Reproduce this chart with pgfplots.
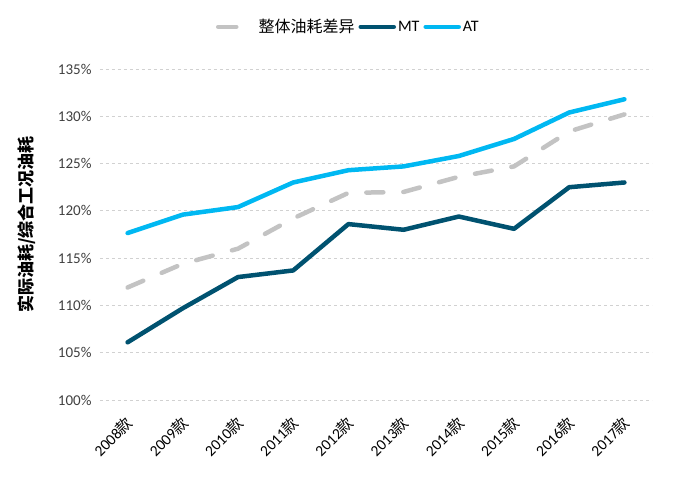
\documentclass[border=0pt]{standalone}
\usepackage{pgfplots}
\pgfplotsset{compat=1.18}
\usepackage{fontspec}
\setmainfont{Carlito}
\newfontfamily\cjk{Noto Sans CJK SC}
\definecolor{mtc}{HTML}{005270}
\definecolor{atc}{HTML}{00B8F2}
\definecolor{grayc}{HTML}{C3C3C3}
\definecolor{tickc}{HTML}{404040}
\pgfplotsset{
  shortleg/.style={legend image code/.code={\draw[##1,solid] (0pt,0pt) -- (18pt,0pt); \path (36pt,0pt);}},
  longleg/.style={legend image code/.code={\draw[##1] (0pt,0pt) -- (33pt,0pt);}},
}

\begin{document}
\begin{tikzpicture}
\begin{axis}[
  at={(0,0)}, anchor=south west,
  scale only axis, width=552pt, height=331pt,
  xmin=-0.5, xmax=9.5, ymin=100, ymax=135,
  axis line style={draw=none},
  tick style={draw=none},
  ytick={100,105,...,135},
  yticklabel={\pgfmathprintnumber[assume math mode=true]{\tick}\%},
  yticklabel style={font=\fontsize{15}{16}\selectfont, text=tickc, xshift=-5pt},
  ymajorgrids,
  grid style={dashed, line width=0.8pt, draw=black!18},
  xtick={0,...,9},
  xticklabels={2008{\cjk 款},2009{\cjk 款},2010{\cjk 款},2011{\cjk 款},2012{\cjk 款},2013{\cjk 款},2014{\cjk 款},2015{\cjk 款},2016{\cjk 款},2017{\cjk 款}},
  xticklabel style={font=\fontsize{15.5}{16}\selectfont, xshift=-3pt, yshift=-10pt, rotate=45, anchor=north east},
  ylabel={\cjk\bfseries 实际油耗/综合工况油耗},
  ylabel style={at={(axis description cs:-0.132,0.53)}, anchor=center, font=\fontsize{17}{18}\selectfont},
  legend style={at={(axis description cs:0.45,1.127)}, anchor=center, draw=none,
    font=\fontsize{16}{17}\selectfont, legend columns=3,
    /tikz/every even column/.append style={column sep=2pt}},
  legend cell align=left,
]
\addplot[grayc, line width=4.5pt, line cap=round, dash pattern=on 17pt off 20pt, shortleg]
  coordinates {(0,111.9) (1,114.4) (2,116.0) (3,119.2) (4,121.9) (5,122.0) (6,123.6) (7,124.7) (8,128.4) (9,130.2)};
\addlegendentry{\cjk 整体油耗差异}
\addplot[mtc, line width=4.5pt, line cap=round, line join=round, longleg]
  coordinates {(0,106.1) (1,109.7) (2,113.0) (3,113.7) (4,118.6) (5,118.0) (6,119.4) (7,118.1) (8,122.5) (9,123.0)};
\addlegendentry{MT}
\addplot[atc, line width=4.5pt, line cap=round, line join=round, longleg]
  coordinates {(0,117.65) (1,119.6) (2,120.4) (3,123.0) (4,124.3) (5,124.7) (6,125.8) (7,127.6) (8,130.4) (9,131.8)};
\addlegendentry{AT}
\end{axis}
\path (-100pt,-77pt) rectangle (581pt,400pt);
\end{tikzpicture}
\end{document}
